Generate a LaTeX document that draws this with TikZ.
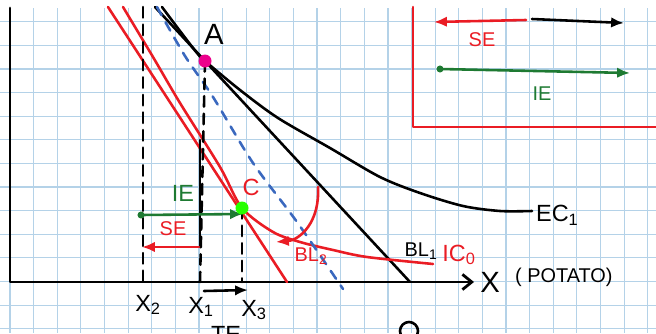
\documentclass[tikz,border=0pt]{standalone}
\usepackage{fontspec}
\setsansfont{Liberation Sans}
\usetikzlibrary{positioning, calc, arrows.meta}

\begin{document}
\begin{tikzpicture}[
  x=0.03cm, y=-0.03cm,
  font=\sffamily,
  >={Latex[length=11pt,width=9pt]},
  pen/.style={line width=2.2pt, line cap=round, line join=round},
  hatch/.style={pen, dash pattern=on 9pt off 6pt},
  bigtxt/.style={font=\sffamily\fontsize{25}{27}\selectfont},
  midtxt/.style={font=\sffamily\fontsize{20}{22}\selectfont},
  smalltxt/.style={font=\sffamily\fontsize{17}{19}\selectfont},
]
\useasboundingbox (0,0) rectangle (656,333);

% ---------------- graph paper ----------------
\definecolor{paperA}{HTML}{B4D2E8}
\foreach \i in {0,...,27} {
  \draw[paperA, line width=1pt] ({10+23.62*\i},8) -- ({10+23.62*\i},333);
}
\foreach \j in {0,...,13} {
  \draw[paperA, line width=1pt] (0,{21.7+23.62*\j}) -- (656,{21.7+23.62*\j});
}

% =====================================================================
% Axes
% =====================================================================
\coordinate (org) at (10,282);
\coordinate (ytop) at (10,8);
\coordinate (xend) at (474,282);
\draw[pen, line width=2.4pt, -{Straight Barb[length=8pt,width=13pt]}]
  (ytop) -- (org) -- (xend);
\node[bigtxt, right=2pt of xend] (xlab) {X};
\node[smalltxt, anchor=west] (potato) at (511,277) {( POTATO)};

% =====================================================================
% Pen colours
% =====================================================================
\definecolor{penR}{HTML}{EA1C24}
\definecolor{penG}{HTML}{1E7A32}
\definecolor{penB}{HTML}{3A68BE}

% =====================================================================
% Lines: BL1 (black), EC1 (black curve), BL2 (red), IC0 (red curve)
% =====================================================================
\coordinate (ptA) at (205,61);
\coordinate (ptC) at (242,208);

\coordinate (bl1top) at (155,7);
\coordinate (bl1end) at (410,282);
\draw[pen] (bl1top) -- (ptA) -- (bl1end);

\draw[pen] plot[smooth, tension=0.5] coordinates {
  (162,7) (180,31) (197,53) (205,61) (240,90) (278,118) (330,148)
  (380,177) (420,193) (463,206) (500,211) (532,211)};
\node[midtxt, anchor=west] (ec1) at (532,215) {EC\textsubscript{1}};

\coordinate (bl2top) at (108,7);
\coordinate (bl2end) at (287,282);
\draw[pen, penR] (bl2top) -- (bl2end);

\draw[pen, penR] plot[smooth, tension=0.5] coordinates {
  (123,7) (153,57) (180,103) (220,167) (242,208) (273,232) (300,242)
  (333,250) (367,257) (433,264)};

% hypothetical budget line (blue, dashed)
\draw[pen, penB, dash pattern=on 8pt off 7pt] plot[smooth, tension=0.5]
  coordinates {(157,7) (185,56) (213,97) (253,163) (297,222) (343,289)};

% arc pointing at BL2
\coordinate (arcS) at (318,187);
\coordinate (arcE) at (276,242);
\draw[pen, penR, ->] (arcS) .. controls (320,222) and (300,240) .. (arcE);

\node[smalltxt, penR] (bl2lab) at (311,256) {BL\textsubscript{2}};
\node[smalltxt] (bl1lab) at (421,251) {BL\textsubscript{1}};
\node[midtxt, penR] (ic0lab) at (459,255) {IC\textsubscript{0}};

% =====================================================================
% Drop lines to the X axis
% =====================================================================
\coordinate (x2top) at (143,7);
\coordinate (x2bot) at (143,282);
\coordinate (x1bot) at (200,282);
\coordinate (x3bot) at (242,282);
\draw[hatch] (x2top) -- (x2bot);
\draw[hatch] (ptA) -- (x1bot);
\draw[pen] (200,140) -- (200,247);
\draw[hatch] (ptC) -- (x3bot);

\node[midtxt] (x2lab) at (148,305) {X\textsubscript{2}};
\node[midtxt] (x1lab) at (201,307) {X\textsubscript{1}};
\node[midtxt] (x3lab) at (254,310) {X\textsubscript{3}};

% =====================================================================
% Effects: IE (green), SE (red), TE (black)
% =====================================================================
\coordinate (ieS) at (141,215);
\coordinate (ieE) at (243,214);
\fill[penG] (ieS) circle (3pt);
\draw[pen, penG, ->] (ieS) -- (ieE);
\node[midtxt, penG] (ielab) at (183,193) {IE};

\coordinate (seS) at (199,247);
\coordinate (seE) at (142,247);
\draw[pen, penR, ->] (seS) -- (seE);
\node[smalltxt, penR] (selab) at (173,229) {SE};

\coordinate (teS) at (204,291);
\coordinate (teE) at (248,290);
\draw[pen, ->] (teS) -- (teE);
\node[midtxt] (telab) at (226,334) {TE};
\draw[pen] (409,331) circle (9);

% =====================================================================
% Points A and C
% =====================================================================
\fill[magenta] (ptA) circle (6.5);
\node[bigtxt] (alab) at (214,34) {A};
\fill[green!85!yellow] (ptC) circle (6.5);
\node[midtxt, penR] (clab) at (251,187) {C};

% =====================================================================
% Legend box (top right)
% =====================================================================
\coordinate (legT) at (413,7);
\coordinate (legC) at (413,127);
\coordinate (legR) at (656,127);
\draw[pen, penR] (legT) -- (legC) -- (legR);

\coordinate (lsS) at (526,20);
\coordinate (lsE) at (434,22);
\draw[pen, penR, ->] (lsS) -- (lsE);
\coordinate (ltS) at (532,19);
\coordinate (ltE) at (624,23);
\draw[pen, ->] (ltS) -- (ltE);
\node[smalltxt, penR] (lselab) at (482,40) {SE};

\coordinate (liS) at (440,69);
\coordinate (liE) at (630,73);
\fill[penG] (liS) circle (3pt);
\draw[pen, penG, ->] (liS) -- (liE);
\node[smalltxt, penG] (lielab) at (542,94) {IE};

\end{tikzpicture}
\end{document}
